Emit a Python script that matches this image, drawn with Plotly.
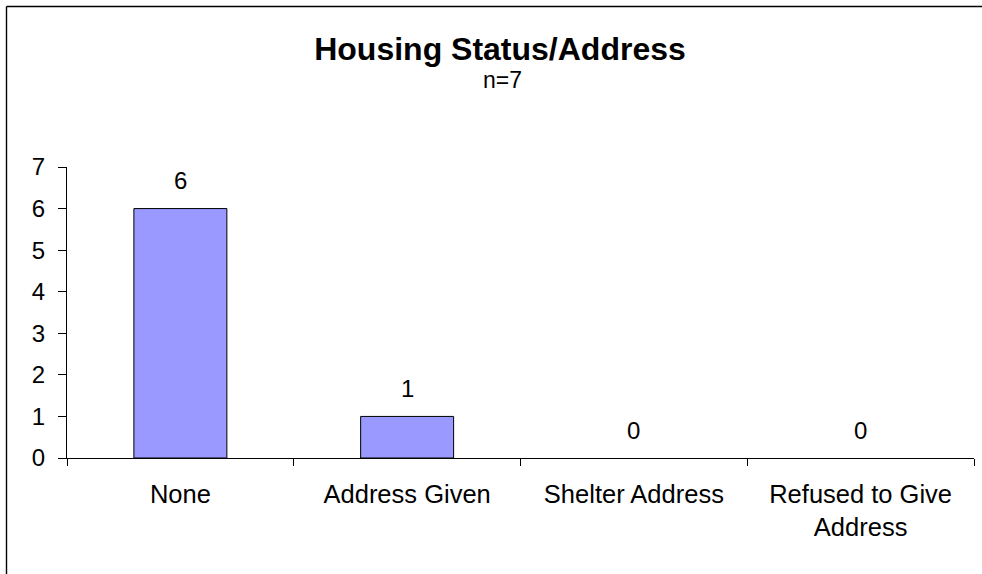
import plotly.graph_objects as go

categories = ["None", "Address Given", "Shelter Address", "Refused to Give<br>Address"]
counts = [6, 1, 0, 0]
y_ticks = [0, 1, 2, 3, 4, 5, 6, 7]
title_text = "Housing Status/Address"
subtitle_text = "n=7"

W, H = 982, 574
L, R, T, B = 67, 8, 167, 116
pw = W - L - R
ph = H - T - B

def px_x(px):
    return (px - L) / pw

def px_y(py):
    return (H - B - py) / ph

FONT = "Liberation Sans, Arial, sans-serif"

fig = go.Figure()
fig.add_trace(go.Bar(
    x=categories, y=counts,
    marker=dict(color="#9999FF",
                line=dict(color="#000000", width=[1 if v > 0 else 0 for v in counts])),
    width=0.41,
    hoverinfo="skip",
))

annotations = []
for c, v in zip(categories, counts):
    annotations.append(dict(
        x=c, y=v, xref="x", yref="y", text=str(v), showarrow=False,
        yanchor="middle", yshift=28,
        font=dict(family=FONT, size=24, color="#000000"),
    ))
annotations.append(dict(
    x=px_x(502), y=px_y(80), xref="paper", yref="paper", text=subtitle_text,
    showarrow=False, xanchor="center", yanchor="middle",
    font=dict(family=FONT, size=23, color="#000000"),
))

edge = 6.5
fig.update_layout(
    width=W, height=H,
    margin=dict(l=L, r=R, t=T, b=B, pad=0),
    paper_bgcolor="#FFFFFF", plot_bgcolor="#FFFFFF",
    showlegend=False,
    title=dict(
        text="<b>" + title_text + "</b>",
        x=500 / W, xref="container", xanchor="center",
        y=1 - 49 / H, yref="container", yanchor="middle",
        font=dict(family=FONT, size=32, color="#000000"),
    ),
    font=dict(family=FONT, size=24, color="#000000"),
    annotations=annotations,
    shapes=[
        dict(type="line", xref="paper", yref="paper",
             x0=px_x(edge), x1=px_x(1100), y0=px_y(edge), y1=px_y(edge),
             line=dict(color="#000000", width=1.4), layer="above"),
        dict(type="line", xref="paper", yref="paper",
             x0=px_x(edge), x1=px_x(edge), y0=px_y(700), y1=px_y(edge),
             line=dict(color="#000000", width=1.4), layer="above"),
    ],
    xaxis=dict(
        type="category", showgrid=False, zeroline=False,
        showline=True, linecolor="#000000", linewidth=1,
        ticks="outside", tickson="boundaries", ticklen=7, tickcolor="#000000",
        tickfont=dict(family=FONT, size=25.5, color="#000000"),
        ticklabelstandoff=13,
    ),
    yaxis=dict(
        range=[0, 7], tickvals=y_ticks, showgrid=False, zeroline=False,
        showline=True, linecolor="#000000", linewidth=1,
        ticks="outside", ticklen=8, tickcolor="#000000",
        tickfont=dict(family=FONT, size=24, color="#000000"),
        ticklabelstandoff=8,
    ),
)

fig.write_html(
    "out.html",
    config={"displayModeBar": False},
    post_script="document.body.style.margin='0';document.body.style.overflow='hidden';",
)
